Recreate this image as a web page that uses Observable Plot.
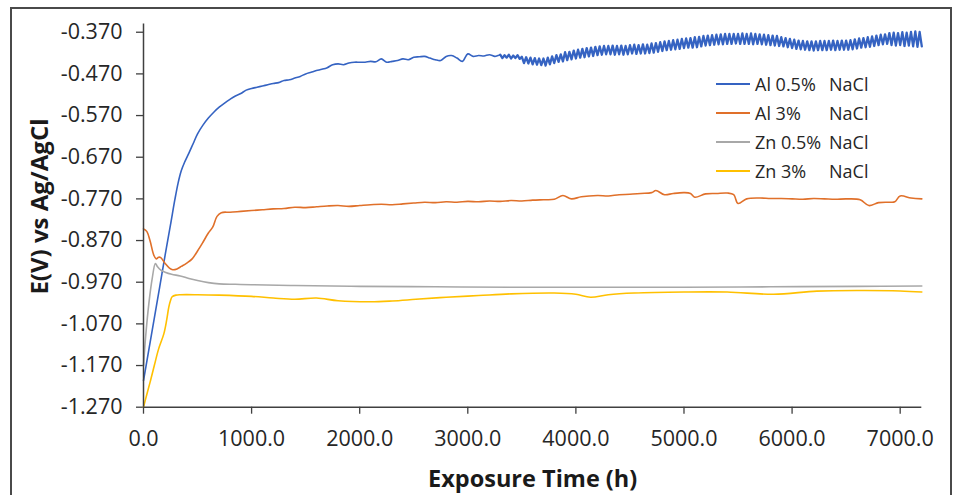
<!DOCTYPE html>
<html><head><meta charset="utf-8">
<script src="https://cdn.jsdelivr.net/npm/d3@7"></script>
<script src="https://cdn.jsdelivr.net/npm/@observablehq/plot@0.6"></script>
<style>
body{margin:0;background:#fff;}
#wrap{position:relative;width:955px;height:495px;overflow:hidden;font-family:"Open Sans",sans-serif;}
#frame{position:absolute;left:10px;top:7px;width:942px;height:520px;border:2px solid #4a4a4a;box-sizing:border-box;pointer-events:none;}
#chart{position:absolute;left:0;top:0;}
#legend{position:absolute;left:716px;top:0;font-size:18px;color:#262626;}
.row{position:absolute;left:0;height:24px;width:200px;}
.sw{position:absolute;left:0;top:11px;width:34px;height:0;border-top:2px solid;}
.nm{position:absolute;left:39px;top:0;line-height:24px;white-space:pre;}
.na{position:absolute;left:113px;top:0;line-height:24px;}
g[aria-label="y-axis label"] text{font-weight:bold;font-size:24px;fill:#1a1a1a;}
g[aria-label="x-axis label"] text{font-weight:bold;font-size:23.5px;fill:#1a1a1a;}
</style></head>
<body>
<div id="wrap"><div id="chart"></div><div id="legend"></div><div id="frame"></div></div>
<script>
// ---- data ----
const seriesNames = ["Al 0.5%", "Al 3%", "Zn 0.5%", "Zn 3%"];
const medium = "NaCl";
const seriesColors = ["#3563c2", "#e0702a", "#a8a8a8", "#ffc000"];
const xTicks = [0, 1000, 2000, 3000, 4000, 5000, 6000, 7000];
const yTicks = [-0.37, -0.47, -0.57, -0.67, -0.77, -0.87, -0.97, -1.07, -1.17, -1.27];

// Al 0.5% NaCl, smooth part [h, V]
const al05 = [[0,-1.206],[50,-1.131],[100,-1.056],[150,-0.981],[200,-0.905],[250,-0.832],[290,-0.772],[320,-0.732],[350,-0.702],[380,-0.682],[420,-0.660],[460,-0.637],[500,-0.614],[550,-0.593],[600,-0.576],[650,-0.562],[700,-0.550],[750,-0.540],[800,-0.531],[850,-0.523],[900,-0.517],[950,-0.509],[1000,-0.505],[1050,-0.502],[1100,-0.499],[1150,-0.496],[1200,-0.493],[1250,-0.491],[1300,-0.486],[1350,-0.484],[1400,-0.480],[1450,-0.476],[1500,-0.470],[1550,-0.466],[1600,-0.462],[1650,-0.459],[1700,-0.455],[1750,-0.448],[1800,-0.446],[1850,-0.448],[1900,-0.444],[1950,-0.442],[2000,-0.442],[2050,-0.442],[2100,-0.440],[2150,-0.441],[2200,-0.434],[2250,-0.442],[2300,-0.440],[2350,-0.438],[2400,-0.434],[2450,-0.436],[2500,-0.430],[2550,-0.429],[2600,-0.428],[2650,-0.432],[2700,-0.436],[2750,-0.438],[2800,-0.428],[2850,-0.426],[2900,-0.432],[2950,-0.440],[3000,-0.422],[3050,-0.428],[3100,-0.426],[3150,-0.427],[3200,-0.424],[3250,-0.428],[3280,-0.426],[3300,-0.424]];
// Al 0.5% NaCl, oscillating part, one reading every 20 h from 3300 h
const al05OscStart = 3300, al05OscStep = 20;
const al05Osc = [
-0.424,-0.432,-0.425,-0.431,-0.424,-0.433,-0.426,-0.432,-0.425,-0.434,
-0.429,-0.444,-0.430,-0.445,-0.431,-0.447,-0.432,-0.448,-0.433,-0.449,
-0.433,-0.450,-0.431,-0.447,-0.428,-0.444,-0.425,-0.441,-0.423,-0.440,
-0.418,-0.437,-0.417,-0.435,-0.414,-0.433,-0.412,-0.431,-0.410,-0.430,
-0.408,-0.428,-0.407,-0.427,-0.405,-0.425,-0.404,-0.424,-0.403,-0.423,
-0.403,-0.423,-0.402,-0.424,-0.403,-0.423,-0.402,-0.424,-0.403,-0.423,
-0.401,-0.421,-0.400,-0.422,-0.401,-0.421,-0.399,-0.421,-0.400,-0.420,
-0.397,-0.419,-0.396,-0.417,-0.394,-0.415,-0.392,-0.413,-0.391,-0.412,
-0.389,-0.411,-0.388,-0.410,-0.386,-0.408,-0.385,-0.407,-0.384,-0.407,
-0.382,-0.406,-0.381,-0.404,-0.379,-0.402,-0.378,-0.401,-0.377,-0.400,
-0.376,-0.399,-0.375,-0.399,-0.374,-0.398,-0.374,-0.398,-0.374,-0.397,
-0.374,-0.398,-0.373,-0.398,-0.374,-0.398,-0.373,-0.399,-0.374,-0.398,
-0.375,-0.399,-0.376,-0.400,-0.377,-0.401,-0.378,-0.402,-0.379,-0.403,
-0.382,-0.404,-0.384,-0.406,-0.386,-0.408,-0.388,-0.410,-0.390,-0.411,
-0.391,-0.412,-0.392,-0.413,-0.392,-0.414,-0.392,-0.413,-0.391,-0.413,
-0.391,-0.413,-0.391,-0.412,-0.390,-0.413,-0.391,-0.412,-0.390,-0.412,
-0.390,-0.412,-0.389,-0.411,-0.387,-0.409,-0.385,-0.407,-0.384,-0.406,
-0.382,-0.405,-0.380,-0.403,-0.378,-0.401,-0.376,-0.399,-0.375,-0.398,
-0.372,-0.401,-0.371,-0.402,-0.372,-0.401,-0.370,-0.403,-0.371,-0.402,
-0.369,-0.404,-0.368,-0.405,-0.369,-0.404];

// Al 3% NaCl
const al3 = [[0,-0.842],[30,-0.848],[60,-0.870],[95,-0.905],[117,-0.914],[140,-0.910],[160,-0.911],[200,-0.925],[240,-0.936],[270,-0.940],[310,-0.938],[350,-0.932],[400,-0.924],[450,-0.914],[500,-0.895],[550,-0.874],[600,-0.852],[640,-0.838],[680,-0.812],[720,-0.803],[800,-0.802],[900,-0.800],[1000,-0.798],[1100,-0.796],[1200,-0.794],[1300,-0.793],[1400,-0.790],[1500,-0.791],[1600,-0.789],[1700,-0.787],[1800,-0.786],[1900,-0.788],[2000,-0.786],[2100,-0.784],[2200,-0.783],[2300,-0.784],[2400,-0.782],[2500,-0.780],[2600,-0.778],[2700,-0.779],[2800,-0.777],[2900,-0.778],[3000,-0.776],[3100,-0.777],[3200,-0.775],[3300,-0.776],[3400,-0.774],[3500,-0.775],[3600,-0.773],[3700,-0.772],[3800,-0.771],[3880,-0.762],[3960,-0.770],[4050,-0.765],[4200,-0.762],[4300,-0.763],[4400,-0.760],[4500,-0.759],[4600,-0.757],[4700,-0.755],[4740,-0.750],[4820,-0.760],[4900,-0.757],[5000,-0.755],[5060,-0.757],[5100,-0.766],[5200,-0.758],[5300,-0.757],[5400,-0.756],[5460,-0.760],[5500,-0.781],[5580,-0.770],[5700,-0.768],[5800,-0.769],[5900,-0.769],[6000,-0.770],[6100,-0.771],[6200,-0.769],[6300,-0.770],[6400,-0.771],[6500,-0.770],[6630,-0.772],[6710,-0.786],[6800,-0.779],[6900,-0.778],[6950,-0.777],[7000,-0.763],[7100,-0.768],[7200,-0.770]];

// Zn 0.5% NaCl
const zn05 = [[0,-1.170],[20,-1.100],[50,-1.020],[80,-0.962],[110,-0.925],[130,-0.933],[160,-0.941],[200,-0.946],[260,-0.951],[340,-0.955],[420,-0.961],[500,-0.966],[600,-0.971],[700,-0.974],[850,-0.975],[1000,-0.976],[1400,-0.978],[2000,-0.980],[2700,-0.981],[3400,-0.982],[4200,-0.982],[5000,-0.982],[5800,-0.981],[6600,-0.980],[7200,-0.979]];

// Zn 3% NaCl
const zn3 = [[0,-1.270],[30,-1.240],[65,-1.206],[100,-1.170],[140,-1.130],[188,-1.094],[215,-1.060],[234,-1.030],[250,-1.014],[265,-1.005],[300,-1.001],[342,-1.000],[500,-1.000],[700,-1.001],[1000,-1.004],[1200,-1.008],[1400,-1.011],[1600,-1.008],[1800,-1.0145],[2100,-1.017],[2300,-1.015],[2520,-1.011],[2800,-1.006],[3100,-1.002],[3400,-0.998],[3800,-0.996],[4000,-0.999],[4135,-1.006],[4300,-1.000],[4540,-0.996],[5000,-0.9935],[5400,-0.9935],[5830,-0.999],[6230,-0.9915],[6630,-0.990],[7000,-0.991],[7200,-0.9935]];

// ---- build ----
const al05OscPts = al05Osc.map((v, i) => [al05OscStart + i * al05OscStep, v]);
const X = d => d[0], Y = d => d[1];

const plot = Plot.plot({
  width: 955, height: 495,
  marginLeft: 143, marginRight: 33.7, marginTop: 23.4, marginBottom: 88.3,
  x: {domain: [0, 7200]},
  y: {domain: [-1.27, -0.35]},
  style: {fontFamily: "'Open Sans', sans-serif", fontSize: "21.5px", color: "#262626", background: "transparent", overflow: "visible"},
  marks: [
    Plot.axisY({ticks: yTicks, tickFormat: d => d.toFixed(3), tickSize: 7, tickPadding: 14, stroke: "#404040", strokeWidth: 1.3,
      label: "E(V) vs Ag/AgCl", labelAnchor: "center", labelArrow: "none", labelOffset: 113}),
    Plot.axisX({ticks: xTicks, tickFormat: d => d.toFixed(1), tickSize: 7, tickPadding: 17, stroke: "#404040", strokeWidth: 1.3,
      label: "Exposure Time (h)", labelAnchor: "center", labelArrow: "none", labelOffset: 80}),
    Plot.line(al05, {x: X, y: Y, stroke: seriesColors[0], strokeWidth: 1.6, curve: "catmull-rom"}),
    Plot.line(al05OscPts, {x: X, y: Y, stroke: seriesColors[0], strokeWidth: 2.3, curve: "linear"}),
    Plot.line(al3, {x: X, y: Y, stroke: seriesColors[1], strokeWidth: 1.6, curve: "catmull-rom"}),
    Plot.line(zn05, {x: X, y: Y, stroke: seriesColors[2], strokeWidth: 1.6, curve: "catmull-rom"}),
    Plot.line(zn3, {x: X, y: Y, stroke: seriesColors[3], strokeWidth: 1.6, curve: "catmull-rom"}),
    Plot.ruleX([0], {stroke: "#404040", strokeWidth: 1.5}),
    Plot.ruleY([-1.27], {stroke: "#404040", strokeWidth: 1.5})
  ]
});
const yl = plot.querySelector('g[aria-label="y-axis label"]');
if (yl) yl.setAttribute("transform", "translate(0,-9) " + (yl.getAttribute("transform") || ""));
document.getElementById("chart").appendChild(plot);

// legend
const legendY = [84.3, 113.3, 142.3, 171];
const leg = document.getElementById("legend");
seriesNames.forEach((n, i) => {
  const r = document.createElement("div");
  r.className = "row";
  r.style.top = (legendY[i] - 12) + "px";
  r.innerHTML = `<div class="sw" style="border-color:${seriesColors[i]}"></div><div class="nm">${n}</div><div class="na">${medium}</div>`;
  leg.appendChild(r);
});
</script>
</body></html>
